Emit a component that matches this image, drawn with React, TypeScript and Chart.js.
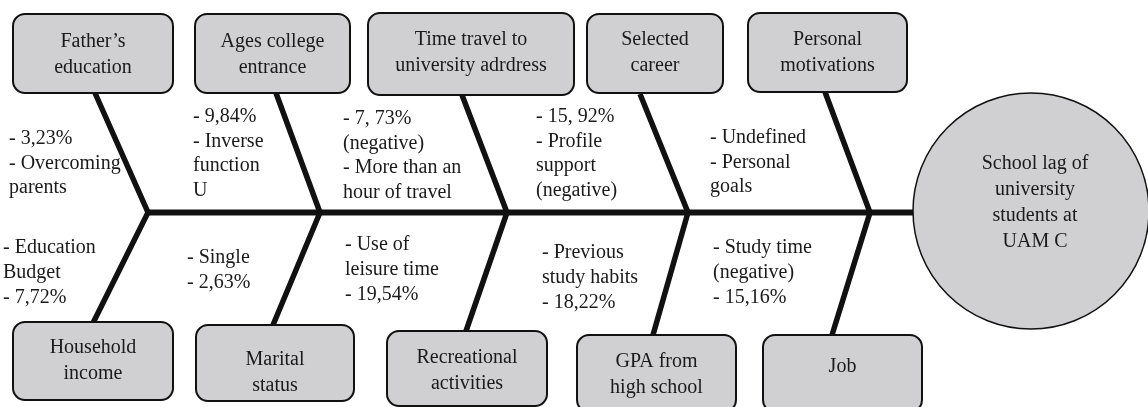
import React, { useEffect, useRef } from "react";
import { Chart, registerables } from "chart.js";

Chart.register(...registerables);

// ---- Content ----
const effect = ["School lag of", "university", "students at", "UAM C"];

const topCauses = [
  ["Father’s", "education"],
  ["Ages college", "entrance"],
  ["Time travel to", "university adrdress"],
  ["Selected", "career"],
  ["Personal", "motivations"],
];
const bottomCauses = [
  ["Household", "income"],
  ["Marital", "status"],
  ["Recreational", "activities"],
  ["GPA from", "high school"],
  ["Job"],
];
const topNotes = [
  ["- 3,23%", "- Overcoming", "parents"],
  ["- 9,84%", "- Inverse", "function", "U"],
  ["- 7, 73%", "(negative)", "- More than an", "hour of travel"],
  ["- 15, 92%", "- Profile", "support", "(negative)"],
  ["- Undefined", "- Personal", "goals"],
];
const bottomNotes = [
  ["- Education", "Budget", "- 7,72%"],
  ["- Single", "- 2,63%"],
  ["- Use of", "leisure time", "- 19,54%"],
  ["- Previous", "study habits", "- 18,22%"],
  ["- Study time", "(negative)", "- 15,16%"],
];

// ---- Diagram coordinates (data units on the linear axes) ----
const spineY = 212.5;
const spineStartX = 147;
const spineEndX = 914;
const jointX = [148, 320, 507, 688, 870];
const topBoneX = [95, 276, 462, 640, 825];
const topBoneY = [93, 93, 95, 94, 92];
const bottomBoneX = [93, 273, 466, 653, 832];
const bottomBoneY = [323, 325, 331, 335, 335];

const topBoxX1 = [13, 195, 368, 587, 748];
const topBoxX2 = [173, 350, 574, 723, 907];
const topBoxY1 = [14, 14, 13, 14, 13];
const topBoxY2 = [93, 93, 95, 93, 92];
const topTextY = [47, 47, 45, 45, 45];

const bottomBoxX1 = [13, 196, 387, 577, 763];
const bottomBoxX2 = [173, 354, 547, 736, 922];
const bottomBoxY1 = [322, 325, 331, 335, 335];
const bottomBoxY2 = [400, 401, 406, 412, 412];
const bottomTextY = [353, 365, 363, 367, 372];

const topNoteX = [9, 193, 343, 536, 710];
const topNoteY = [144, 122, 124, 122, 143];
const bottomNoteX = [3, 187, 345, 542, 713];
const bottomNoteY = [253, 263, 250, 258, 253];

const circleX = 1031;
const circleY = 211;
const circleR = 118;
const circleTextX = 1035;
const circleTextY = 169;

const FONT = "'Liberation Serif', 'Times New Roman', serif";
const FILL = "#d0cfd1";
const INK = "#111111";

export default function App() {
  const ref = useRef<HTMLCanvasElement | null>(null);

  useEffect(() => {
    document.body.style.margin = "0";
    const canvas = ref.current;
    if (!canvas) return;

    const bones = jointX.map((jx, i) => ({
      type: "scatter" as const,
      data: [
        { x: topBoneX[i], y: topBoneY[i] },
        { x: jx, y: spineY },
        { x: bottomBoneX[i], y: bottomBoneY[i] },
      ],
      showLine: true,
      borderColor: INK,
      borderWidth: 5.5,
      pointRadius: 0,
      borderJoinStyle: "miter" as const,
      borderCapStyle: "butt" as const,
      order: 2,
    }));

    const spine = {
      type: "scatter" as const,
      data: [
        { x: spineStartX, y: spineY },
        { x: spineEndX, y: spineY },
      ],
      showLine: true,
      borderColor: INK,
      borderWidth: 6,
      pointRadius: 0,
      borderCapStyle: "butt" as const,
      order: 3,
    };

    const head = {
      type: "scatter" as const,
      data: [{ x: circleX, y: circleY }],
      pointRadius: circleR,
      pointStyle: "circle" as const,
      backgroundColor: FILL,
      borderColor: INK,
      borderWidth: 1.5,
      clip: false as any,
      order: 0,
    };

    const drawPlugin = {
      id: "fishboneText",
      afterDatasetsDraw(chart: any) {
        const { ctx, scales } = chart;
        const sx = scales.x;
        const sy = scales.y;
        const box = (x1: number, y1: number, x2: number, y2: number) => {
          const px1 = sx.getPixelForValue(x1);
          const px2 = sx.getPixelForValue(x2);
          const py1 = sy.getPixelForValue(y1);
          const py2 = sy.getPixelForValue(y2);
          ctx.beginPath();
          ctx.roundRect(px1, py1, px2 - px1, py2 - py1, 12);
          ctx.fillStyle = FILL;
          ctx.fill();
          ctx.lineWidth = 2;
          ctx.strokeStyle = INK;
          ctx.stroke();
        };
        ctx.save();
        for (let i = 0; i < 5; i++) {
          box(topBoxX1[i], topBoxY1[i], topBoxX2[i], topBoxY2[i]);
          box(bottomBoxX1[i], bottomBoxY1[i], bottomBoxX2[i], bottomBoxY2[i]);
        }
        ctx.font = `20px ${FONT}`;
        ctx.fillStyle = "#1a1a1a";
        ctx.textBaseline = "alphabetic";
        ctx.textAlign = "center";
        for (let i = 0; i < 5; i++) {
          const cxTop = sx.getPixelForValue((topBoxX1[i] + topBoxX2[i]) / 2);
          topCauses[i].forEach((t, k) => {
            ctx.fillText(t, cxTop, sy.getPixelForValue(topTextY[i] + k * 26));
          });
          const cxBot = sx.getPixelForValue((bottomBoxX1[i] + bottomBoxX2[i]) / 2);
          bottomCauses[i].forEach((t, k) => {
            ctx.fillText(t, cxBot, sy.getPixelForValue(bottomTextY[i] + k * 26));
          });
        }
        effect.forEach((t, k) => {
          ctx.fillText(t, sx.getPixelForValue(circleTextX), sy.getPixelForValue(circleTextY + k * 26));
        });
        ctx.textAlign = "left";
        for (let i = 0; i < 5; i++) {
          topNotes[i].forEach((t, k) => {
            ctx.fillText(t, sx.getPixelForValue(topNoteX[i]), sy.getPixelForValue(topNoteY[i] + k * 24.6));
          });
          bottomNotes[i].forEach((t, k) => {
            ctx.fillText(t, sx.getPixelForValue(bottomNoteX[i]), sy.getPixelForValue(bottomNoteY[i] + k * 25));
          });
        }
        ctx.restore();
      },
    };

    const chart = new Chart(canvas, {
      type: "scatter",
      data: { datasets: [spine, ...bones, head] as any },
      options: {
        animation: false,
        responsive: false,
        events: [],
        layout: { padding: 0, autoPadding: false },
        plugins: { legend: { display: false }, tooltip: { enabled: false } },
        scales: {
          x: { type: "linear", min: 0, max: 1148, display: false },
          y: { type: "linear", min: 0, max: 407, reverse: true, display: false },
        },
      },
      plugins: [drawPlugin],
    });
    return () => chart.destroy();
  }, []);

  return (
    <div style={{ width: 1148, height: 407, background: "#fff" }}>
      <canvas ref={ref} width={1148} height={407} style={{ display: "block" }} />
    </div>
  );
}
